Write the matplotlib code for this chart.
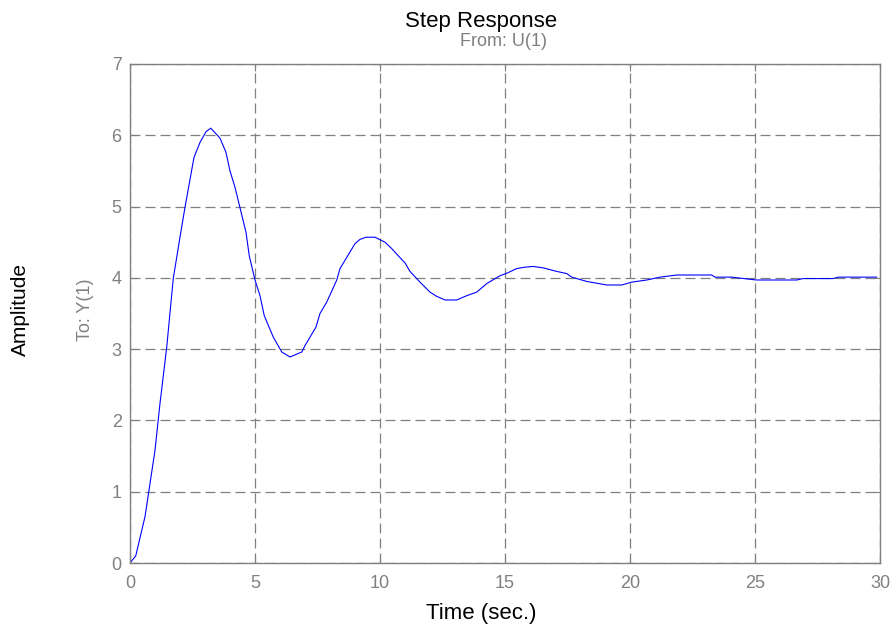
import matplotlib
matplotlib.use("Agg")
import matplotlib.pyplot as plt

plt.rcParams['font.family'] = ['Liberation Sans', 'DejaVu Sans']

# step response
t = [0, 0.23, 0.6, 1.0, 1.2, 1.47, 1.73, 2.0, 2.2, 2.56, 2.8, 3.04, 3.23, 3.6,
     3.84, 4.0, 4.2, 4.43, 4.64, 4.77, 5.0, 5.2, 5.37, 5.73, 6.07, 6.4, 6.87,
     7.0, 7.44, 7.6, 7.87, 8.27, 8.4, 9.0, 9.2, 9.44, 9.8, 10.2, 10.47, 10.73,
     11.0, 11.2, 11.6, 12.0, 12.27, 12.6, 13.07, 13.47, 13.87, 14.27, 14.8,
     15.04, 15.47, 15.8, 16.13, 16.53, 17.07, 17.47, 17.67, 18.27, 19.07,
     19.67, 20.07, 20.67, 21.2, 21.87, 23.27, 23.4, 24.07, 24.8, 25.07, 26.67,
     26.93, 28.13, 28.33, 29.87]
amp = [0, 0.1, 0.65, 1.58, 2.24, 3.03, 3.99, 4.57, 4.99, 5.69, 5.9, 6.05, 6.10,
       5.96, 5.76, 5.50, 5.27, 4.94, 4.64, 4.31, 3.97, 3.75, 3.47, 3.17, 2.96,
       2.89, 2.96, 3.05, 3.31, 3.50, 3.66, 3.97, 4.13, 4.48, 4.54, 4.57, 4.57,
       4.50, 4.41, 4.31, 4.21, 4.09, 3.94, 3.80, 3.74, 3.69, 3.69, 3.75, 3.80,
       3.92, 4.03, 4.06, 4.13, 4.15, 4.16, 4.14, 4.09, 4.06, 4.01, 3.95, 3.90,
       3.90, 3.94, 3.97, 4.01, 4.04, 4.04, 4.01, 4.01, 3.98, 3.97, 3.97, 3.99,
       3.99, 4.01, 4.01]

xticks = [0, 5, 10, 15, 20, 25, 30]
yticks = [0, 1, 2, 3, 4, 5, 6, 7]

W, H = 894, 627
gray = '#808080'

fig = plt.figure(figsize=(W / 100, H / 100), dpi=100)
ax = fig.add_axes([130 / W, 1 - 563 / H, 750 / W, 499 / H])

ax.plot(t, amp, color='#0000ff', lw=0.8)

ax.set_xlim(0, 30)
ax.set_ylim(0, 7)
ax.set_xticks(xticks)
ax.set_yticks(yticks)
ax.grid(True, color=gray, lw=0.9, linestyle=(0, (8, 4)))
ax.tick_params(direction='in', length=5, color=gray, labelcolor=gray,
               labelsize=13, top=True, right=True)
ax.tick_params(axis='x', pad=9)
ax.tick_params(axis='y', pad=6)
for s in ax.spines.values():
    s.set_color(gray)
    s.set_linewidth(1.0)

fig.text(481 / W, 1 - 22 / H, 'Step Response', ha='center', va='center',
         fontsize=16, color='black')
fig.text(504 / W, 1 - 42 / H, 'From: U(1)', ha='center', va='center',
         fontsize=13, color=gray)
fig.text(481 / W, 1 - 613 / H, 'Time (sec.)', ha='center', va='center',
         fontsize=16, color='black')
fig.text(20 / W, 1 - 309 / H, 'Amplitude', ha='center', va='center',
         fontsize=15, rotation=90, color='black')
fig.text(86 / W, 1 - 310 / H, 'To: Y(1)', ha='center', va='center',
         fontsize=13, rotation=90, color=gray)

fig.savefig('out.png', dpi=100)
